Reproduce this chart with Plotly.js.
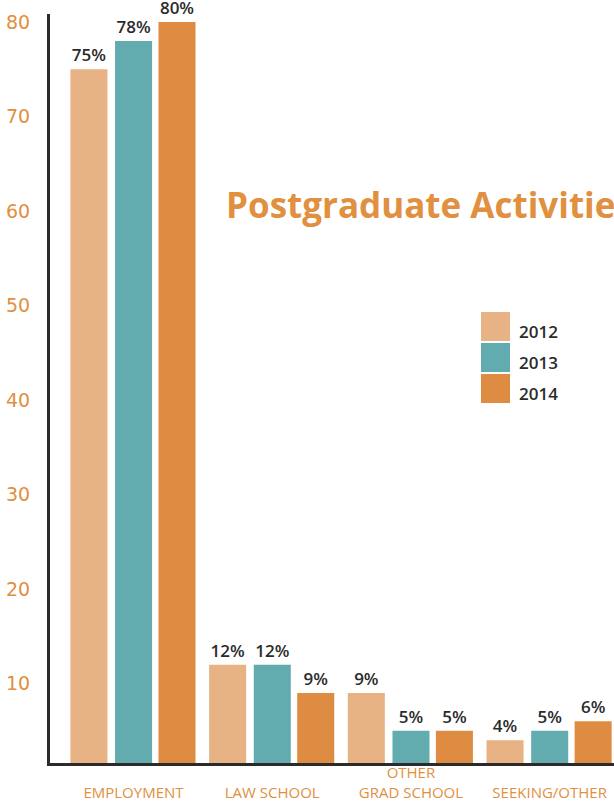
<!DOCTYPE html>
<html>
<head>
<meta charset="utf-8">
<script src="https://cdn.plot.ly/plotly-3.0.1.min.js"></script>
<style>html,body{margin:0;padding:0;background:#fff;}#chart{width:614px;height:803px;}</style>
</head>
<body>
<div id="chart"></div>
<script>
// ---- data ----
const categories = ['EMPLOYMENT', 'LAW SCHOOL', 'OTHER<br>GRAD SCHOOL', 'SEEKING/OTHER'];
const years = ['2012', '2013', '2014'];
const values2012 = [75, 12, 9, 4];
const values2013 = [78, 12, 5, 5];
const values2014 = [80, 9, 5, 6];
const yTicks = [10, 20, 30, 40, 50, 60, 70, 80];
const chartTitle = 'Postgraduate Activities';

// ---- style ----
const colors = ['#E8B384', '#62ACAF', '#DD8C42'];
const orange = '#E0903F';
const dark = '#2b2b2b';
const W = 614, H = 803;
const M = {l: 50, r: 0, t: 14, b: 40};
const pw = W - M.l - M.r, ph = H - M.t - M.b;
const px = x => (x - M.l) / pw;
const py = y => (H - M.b - y) / ph;

const series = [values2012, values2013, values2014];
const offsets = [-0.455, -0.133, 0.18];
const xIdx = categories.map((c, i) => i);

const traces = series.map((vals, k) => ({
  type: 'bar',
  name: years[k],
  x: xIdx,
  y: vals,
  width: 0.267,
  offset: offsets[k],
  marker: {color: colors[k], line: {width: 0}},
  text: vals.map(v => v + '%'),
  textposition: 'outside',
  textfont: {family: 'Open Sans', size: 17, weight: 600, color: dark},
  cliponaxis: false,
  hoverinfo: 'skip'
}));

const shapes = [];
const annotations = [];
const swatchTops = [312, 343, 374];
years.forEach((yr, k) => {
  const t = swatchTops[k];
  shapes.push({type: 'rect', xref: 'paper', yref: 'paper',
    x0: px(481), x1: px(510), y0: py(t + 29), y1: py(t),
    fillcolor: colors[k], line: {width: 0}});
  annotations.push({xref: 'paper', yref: 'paper', x: px(517), y: py(t + 19),
    xanchor: 'left', yanchor: 'middle', showarrow: false, text: yr,
    font: {family: 'Open Sans', size: 17, weight: 600, color: dark}});
});
annotations.push({xref: 'paper', yref: 'paper', x: px(224), y: py(204),
  xanchor: 'left', yanchor: 'middle', showarrow: false, text: chartTitle,
  font: {family: 'Open Sans', size: 35, weight: 700, color: orange}});

const tickText = categories.map(c => c.indexOf('<br>') >= 0 ? c : '\u00a0<br>' + c);

const layout = {
  width: W, height: H,
  margin: M,
  paper_bgcolor: '#fff', plot_bgcolor: '#fff',
  showlegend: false,
  barmode: 'overlay',
  xaxis: {
    range: [-0.602, 3.464],
    tickvals: xIdx, ticktext: tickText,
    showgrid: false, zeroline: false,
    showline: true, linewidth: 3, linecolor: dark,
    ticks: '',
    tickfont: {family: 'Open Sans', size: 15, color: orange},
    ticklabelstandoff: -6
  },
  yaxis: {
    range: [1.59, 80.85],
    tickvals: yTicks,
    showgrid: false, zeroline: false,
    showline: true, linewidth: 3, linecolor: dark,
    ticks: '',
    tickfont: {family: 'DejaVu Sans', size: 19, color: orange},
    ticklabelstandoff: 13
  },
  shapes: shapes,
  annotations: annotations
};

Plotly.newPlot('chart', traces, layout, {displayModeBar: false, staticPlot: true});
</script>
</body>
</html>
